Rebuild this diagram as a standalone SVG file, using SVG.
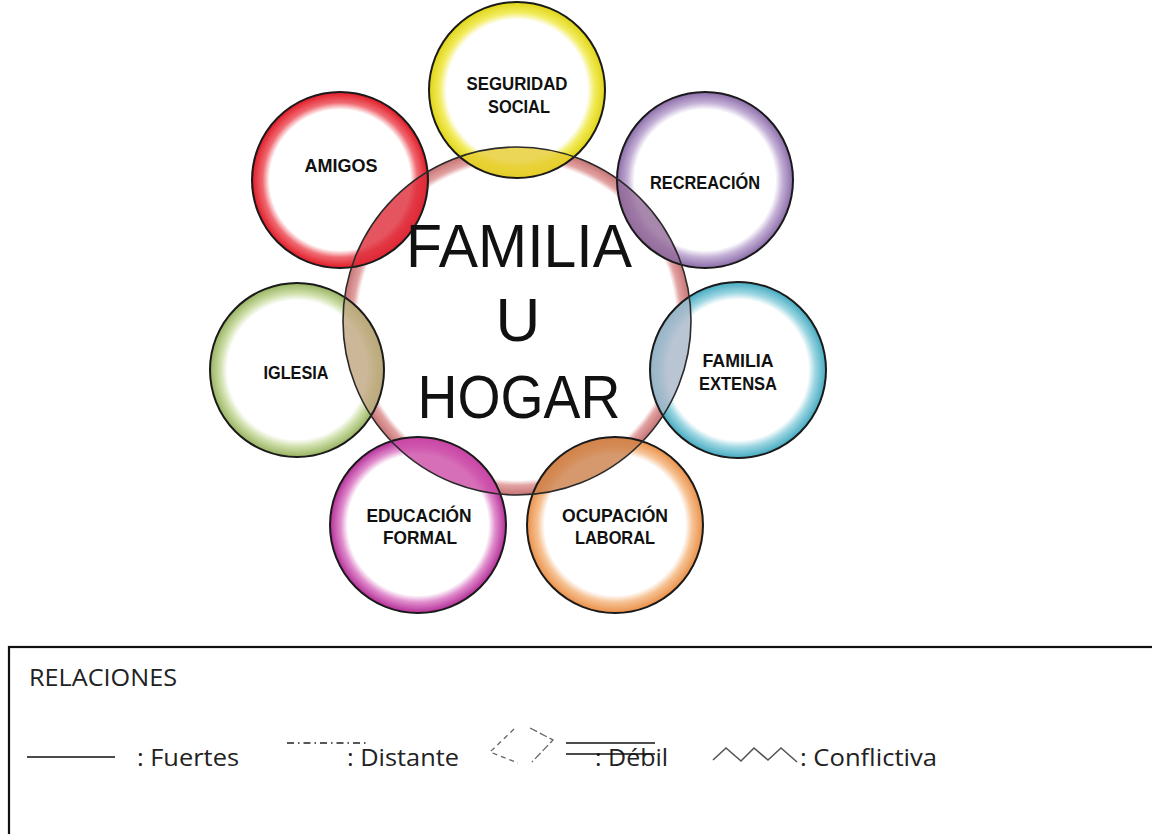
<svg xmlns="http://www.w3.org/2000/svg" width="1152" height="834" viewBox="0 0 1152 834">
<style>
.lbl{font-family:"Liberation Sans",Arial,sans-serif;font-weight:bold;font-size:18px;fill:#111;text-anchor:middle}
.big{font-family:"Liberation Sans",Arial,sans-serif;font-size:62px;fill:#111;text-anchor:middle}
.leg{font-family:"Open Sans","Liberation Sans",sans-serif;font-size:23px;fill:#222}
.outline{fill:none;stroke:#1a1a1a;stroke-width:2}
.lens{fill-opacity:0.8}
</style>
<defs>
<clipPath id="cc"><circle cx="517" cy="321" r="174"/></clipPath>
<radialGradient id="gC"><stop offset="0.915" stop-color="#fff"/><stop offset="0.945" stop-color="#e2a2a2"/><stop offset="1" stop-color="#c67474"/></radialGradient>
<radialGradient id="gY"><stop offset="0.8" stop-color="#fff"/><stop offset="0.88" stop-color="#f2ec60"/><stop offset="1" stop-color="#e0d414"/></radialGradient>
<radialGradient id="gR"><stop offset="0.8" stop-color="#fff"/><stop offset="0.88" stop-color="#f06a72"/><stop offset="1" stop-color="#e01a26"/></radialGradient>
<radialGradient id="gP"><stop offset="0.8" stop-color="#fff"/><stop offset="0.88" stop-color="#c4b0d6"/><stop offset="1" stop-color="#8a6ca8"/></radialGradient>
<radialGradient id="gG"><stop offset="0.8" stop-color="#fff"/><stop offset="0.88" stop-color="#d0e0ac"/><stop offset="1" stop-color="#97b260"/></radialGradient>
<radialGradient id="gB"><stop offset="0.8" stop-color="#fff"/><stop offset="0.88" stop-color="#9cd6e2"/><stop offset="1" stop-color="#44aac0"/></radialGradient>
<radialGradient id="gM"><stop offset="0.8" stop-color="#fff"/><stop offset="0.88" stop-color="#e08ccc"/><stop offset="1" stop-color="#b42e98"/></radialGradient>
<radialGradient id="gO"><stop offset="0.8" stop-color="#fff"/><stop offset="0.88" stop-color="#f6c294"/><stop offset="1" stop-color="#ea9048"/></radialGradient>
</defs>

<g id="familia">
<circle cx="517" cy="321" r="174" fill="url(#gC)"/>
</g>

<g id="seguridad-social">
<circle cx="517" cy="90" r="88" fill="url(#gY)"/>
<circle class="lens" cx="517" cy="90" r="88" fill="#e6cc2e" clip-path="url(#cc)"/>
<circle class="outline" cx="517" cy="90" r="88"/>
<text class="lbl" x="517" y="90" textLength="101" lengthAdjust="spacingAndGlyphs">SEGURIDAD</text>
<text class="lbl" x="519" y="113" textLength="62" lengthAdjust="spacingAndGlyphs">SOCIAL</text>
</g>

<g id="amigos">
<circle cx="340" cy="180" r="88" fill="url(#gR)"/>
<circle class="lens" cx="340" cy="180" r="88" fill="#de2a38" clip-path="url(#cc)"/>
<circle class="outline" cx="340" cy="180" r="88"/>
<text class="lbl" x="341" y="172" textLength="73" lengthAdjust="spacingAndGlyphs">AMIGOS</text>
</g>

<g id="recreacion">
<circle cx="705" cy="180" r="88" fill="url(#gP)"/>
<circle class="lens" cx="705" cy="180" r="88" fill="#946a98" clip-path="url(#cc)"/>
<circle class="outline" cx="705" cy="180" r="88"/>
<text class="lbl" x="705" y="189" textLength="110" lengthAdjust="spacingAndGlyphs">RECREACIÓN</text>
</g>

<g id="iglesia">
<circle cx="297" cy="370" r="87" fill="url(#gG)"/>
<circle class="lens" cx="297" cy="370" r="87" fill="#bfa57e" clip-path="url(#cc)"/>
<circle class="outline" cx="297" cy="370" r="87"/>
<text class="lbl" x="296" y="379" textLength="65" lengthAdjust="spacingAndGlyphs">IGLESIA</text>
</g>

<g id="familia-extensa">
<circle cx="738" cy="370" r="88" fill="url(#gB)"/>
<circle class="lens" cx="738" cy="370" r="88" fill="#a9b6c8" clip-path="url(#cc)"/>
<circle class="outline" cx="738" cy="370" r="88"/>
<text class="lbl" x="738" y="367" textLength="71" lengthAdjust="spacingAndGlyphs">FAMILIA</text>
<text class="lbl" x="738" y="390" textLength="78" lengthAdjust="spacingAndGlyphs">EXTENSA</text>
</g>

<g id="educacion-formal">
<circle cx="418" cy="525" r="88" fill="url(#gM)"/>
<circle class="lens" cx="418" cy="525" r="88" fill="#cc4aa6" clip-path="url(#cc)"/>
<circle class="outline" cx="418" cy="525" r="88"/>
<text class="lbl" x="419" y="522" textLength="105" lengthAdjust="spacingAndGlyphs">EDUCACIÓN</text>
<text class="lbl" x="420" y="544" textLength="74" lengthAdjust="spacingAndGlyphs">FORMAL</text>
</g>

<g id="ocupacion-laboral">
<circle cx="615" cy="525" r="88" fill="url(#gO)"/>
<circle class="lens" cx="615" cy="525" r="88" fill="#cc7e48" clip-path="url(#cc)"/>
<circle class="outline" cx="615" cy="525" r="88"/>
<text class="lbl" x="615" y="522" textLength="106" lengthAdjust="spacingAndGlyphs">OCUPACIÓN</text>
<text class="lbl" x="615" y="544" textLength="80" lengthAdjust="spacingAndGlyphs">LABORAL</text>
</g>

<g id="familia-label">
<circle cx="517" cy="321" r="174" fill="none" stroke="#2a2a2a" stroke-width="1.6"/>
<text class="big" x="519" y="267" textLength="226" lengthAdjust="spacingAndGlyphs">FAMILIA</text>
<text class="big" x="518" y="341">U</text>
<text class="big" x="519" y="418" textLength="203" lengthAdjust="spacingAndGlyphs">HOGAR</text>
</g>

<g id="legend">
<rect x="9" y="647" width="1160" height="210" fill="none" stroke="#111" stroke-width="2.2"/>
<text class="leg" x="29" y="686" textLength="148" lengthAdjust="spacingAndGlyphs">RELACIONES</text>
<line x1="27" y1="757" x2="115" y2="757" stroke="#111" stroke-width="1.6"/>
<text class="leg" x="137" y="766" textLength="102" lengthAdjust="spacingAndGlyphs">: Fuertes</text>
<line x1="287" y1="743" x2="368" y2="743" stroke="#222" stroke-width="1.4" stroke-dasharray="7,4,1.5,4"/>
<text class="leg" x="347" y="766" textLength="112" lengthAdjust="spacingAndGlyphs">: Distante</text>
<polyline points="514,729 490,752 518,763" fill="none" stroke="#666" stroke-width="1.3" stroke-dasharray="5,4"/>
<polyline points="530,728 553,740 532,762" fill="none" stroke="#666" stroke-width="1.3" stroke-dasharray="8,3"/>
<line x1="566" y1="743" x2="655" y2="743" stroke="#111" stroke-width="1.6"/>
<text class="leg" x="595" y="766" textLength="73" lengthAdjust="spacingAndGlyphs">: Débil</text>
<line x1="566" y1="754" x2="655" y2="754" stroke="#111" stroke-width="1.6"/>
<polyline points="713,760 726,748 741,761 754,748 768,760 781,748 797,762" fill="none" stroke="#555" stroke-width="1.6"/>
<text class="leg" x="800" y="766" textLength="137" lengthAdjust="spacingAndGlyphs">: Conflictiva</text>
</g>
</svg>
